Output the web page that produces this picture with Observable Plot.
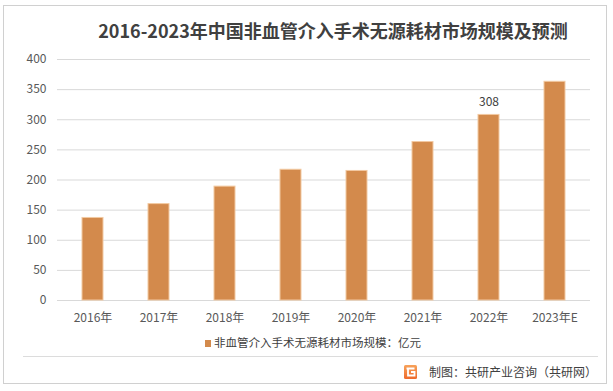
<!DOCTYPE html>
<html>
<head>
<meta charset="utf-8">
<script src="https://cdn.jsdelivr.net/npm/d3@7"></script>
<script src="https://cdn.jsdelivr.net/npm/@observablehq/plot@0.6"></script>
<style>
  html, body { margin: 0; padding: 0; background: #fff; }
  #wrap { position: relative; width: 613px; height: 391px; overflow: hidden; font-family: "Noto Sans CJK SC", "Noto Sans", sans-serif; }
  #frame { position: absolute; left: 3px; top: 5px; width: 604px; height: 379px; border: 1px solid #d0d0d0; box-sizing: border-box; }
  #title { position: absolute; left: 0; width: 666px; top: 17px; line-height: 26px; text-align: center; font-size: 18px; font-weight: bold; color: #404040; white-space: nowrap; }
  #legend { position: absolute; left: 205px; top: 334px; line-height: 16px; font-size: 11.5px; color: #404040; white-space: nowrap; }
  #legend .sw { display: inline-block; width: 6px; height: 7px; background: #d38a4c; margin-right: 3px; }
  #sep { position: absolute; left: 23px; top: 356px; width: 575px; height: 1px; background: #dcdcdc; }
  #caption { position: absolute; right: 16px; top: 363px; line-height: 17px; font-size: 12px; color: #404040; white-space: nowrap; }
  #logo { position: absolute; left: 404px; top: 365px; width: 13px; height: 14px; }
  #chart { position: absolute; left: 0; top: 0; }
</style>
</head>
<body>
<div id="wrap">
  <div id="frame"></div>
  <div id="chart"></div>
  <div id="title">2016-2023年中国非血管介入手术无源耗材市场规模及预测</div>
  <div id="legend"><span class="sw"></span>非血管介入手术无源耗材市场规模：亿元</div>
  <div id="sep"></div>
  <svg id="logo" viewBox="0 0 13 14">
    <defs><linearGradient id="lg" x1="0" y1="0" x2="0" y2="1"><stop offset="0" stop-color="#f7a25a"/><stop offset="1" stop-color="#ee6a2c"/></linearGradient></defs>
    <rect x="0" y="0" width="13" height="14" rx="1.5" fill="url(#lg)"/>
    <path d="M2.5 3.5 H10.5 M4 3.5 V10.5 H10.5 V7 H7" stroke="#fff" stroke-width="1.8" fill="none"/>
  </svg>
  <div id="caption">制图：共研产业咨询（共研网）</div>
</div>
<script>
const years = ["2016年", "2017年", "2018年", "2019年", "2020年", "2021年", "2022年", "2023年E"];
const values = [137, 160, 189, 217, 215, 263, 308, 363];
const yTicks = [0, 50, 100, 150, 200, 250, 300, 350, 400];
const labelled = ["2022年"];

const data = years.map((y, i) => ({year: y, value: values[i]}));

const chart = Plot.plot({
  width: 613,
  height: 391,
  marginLeft: 57,
  marginRight: 23,
  marginTop: 59,
  marginBottom: 91,
  style: {fontFamily: '"Noto Sans CJK SC", "Noto Sans", sans-serif', fontSize: "12px", color: "#595959", background: "transparent"},
  x: {domain: years, paddingInner: 0.685, paddingOuter: 0.3425, label: null},
  y: {domain: [0, 400], label: null},
  marks: [
    Plot.ruleY(yTicks, {stroke: "#d9d9d9", strokeWidth: 1}),
    Plot.barY(data, {x: "year", y: "value", fill: "#d38a4c", stroke: "#f2c9a2", strokeWidth: 1}),
    Plot.text(data.filter(d => labelled.includes(d.year)), {x: "year", y: "value", text: d => String(d.value), dy: -13, fontSize: 12, fill: "#404040"}),
    Plot.axisY({ticks: yTicks, tickSize: 0, tickPadding: 11, fontSize: 12, label: null}),
    Plot.axisX({tickSize: 0, tickPadding: 13, fontSize: 12, label: null})
  ]
});
document.getElementById("chart").appendChild(chart);
</script>
</body>
</html>
